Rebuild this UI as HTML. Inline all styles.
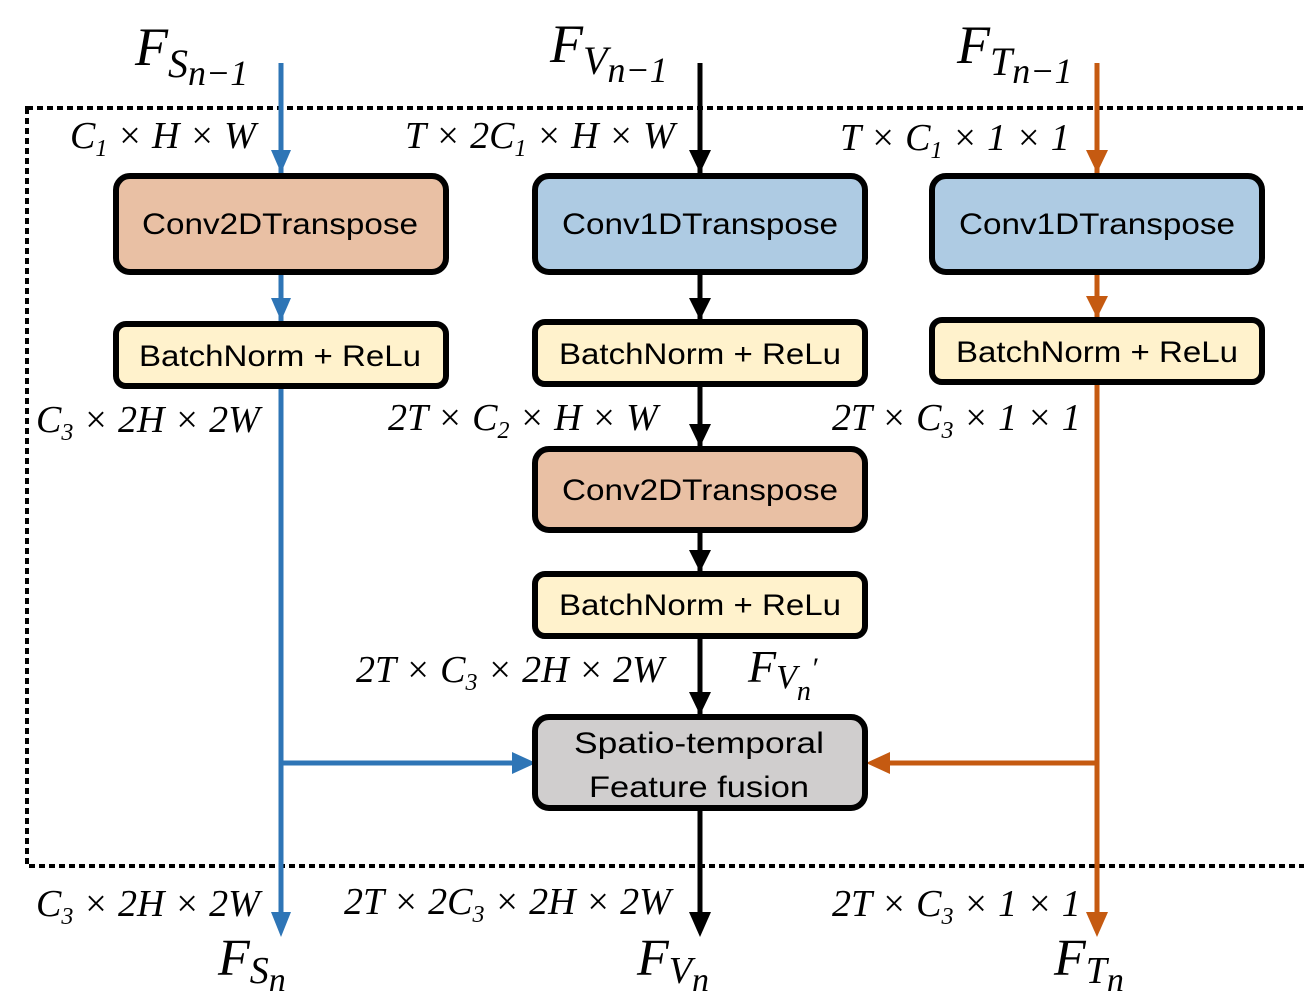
<!DOCTYPE html>
<html><head><meta charset="utf-8"><style>html,body{margin:0;padding:0;background:#fff}svg{display:block}</style></head><body>
<svg width="1304" height="1006" viewBox="0 0 1304 1006" xmlns="http://www.w3.org/2000/svg">
<rect x="27" y="108" width="1290" height="758" fill="none" stroke="#000" stroke-width="4" stroke-dasharray="6,4"/>
<g stroke-width="5" fill="none">
<line x1="281" y1="63" x2="281" y2="915" stroke="#2E75B6"/>
<line x1="281" y1="763" x2="515" y2="763" stroke="#2E75B6"/>
<line x1="700" y1="63" x2="700" y2="915" stroke="#000"/>
<line x1="1097" y1="63" x2="1097" y2="915" stroke="#C55A11"/>
<line x1="1097" y1="763" x2="888" y2="763" stroke="#C55A11"/>
</g>
<g fill="#2E75B6">
<path d="M271,150 L291,150 L281,173z"/><path d="M271,298 L291,298 L281,321z"/><path d="M271,912 L291,912 L281,937z"/><path d="M512,752 L512,774 L536,763z"/>
</g>
<g fill="#000">
<path d="M689,150 L711,150 L700,173z"/><path d="M689,298 L711,298 L700,320z"/><path d="M689,424 L711,424 L700,447z"/><path d="M689,550 L711,550 L700,572z"/><path d="M689,692 L711,692 L700,715z"/><path d="M689,912 L711,912 L700,937z"/>
</g>
<g fill="#C55A11">
<path d="M1086,150 L1108,150 L1097,173z"/><path d="M1086,296 L1108,296 L1097,318z"/><path d="M1086,912 L1108,912 L1097,937z"/><path d="M890,752 L890,774 L866,763z"/>
</g>
<g stroke="#000" stroke-width="6">
<rect x="116" y="176" width="330" height="96" rx="14" fill="#E9C0A4"/>
<rect x="116" y="324" width="330" height="62" rx="10" fill="#FFF2CC"/>
<rect x="535" y="176" width="330" height="96" rx="14" fill="#AECBE3"/>
<rect x="535" y="322" width="330" height="62" rx="10" fill="#FFF2CC"/>
<rect x="535" y="449" width="330" height="81" rx="14" fill="#E9C0A4"/>
<rect x="535" y="574" width="330" height="62" rx="10" fill="#FFF2CC"/>
<rect x="535" y="717" width="330" height="91" rx="14" fill="#D0CECE"/>
<rect x="932" y="176" width="330" height="96" rx="14" fill="#AECBE3"/>
<rect x="932" y="320" width="330" height="62" rx="10" fill="#FFF2CC"/>
</g>
<g font-family="Liberation Sans, sans-serif" font-size="30" fill="#000" text-anchor="middle">
<text x="280" y="234" textLength="276" lengthAdjust="spacingAndGlyphs">Conv2DTranspose</text>
<text x="280" y="366" textLength="282" lengthAdjust="spacingAndGlyphs">BatchNorm + ReLu</text>
<text x="700" y="234" textLength="276" lengthAdjust="spacingAndGlyphs">Conv1DTranspose</text>
<text x="700" y="364" textLength="282" lengthAdjust="spacingAndGlyphs">BatchNorm + ReLu</text>
<text x="700" y="500" textLength="276" lengthAdjust="spacingAndGlyphs">Conv2DTranspose</text>
<text x="700" y="615" textLength="282" lengthAdjust="spacingAndGlyphs">BatchNorm + ReLu</text>
<text x="699" y="753" textLength="250" lengthAdjust="spacingAndGlyphs">Spatio-temporal</text>
<text x="699" y="797" textLength="220" lengthAdjust="spacingAndGlyphs">Feature fusion</text>
<text x="1097" y="234" textLength="276" lengthAdjust="spacingAndGlyphs">Conv1DTranspose</text>
<text x="1097" y="362" textLength="282" lengthAdjust="spacingAndGlyphs">BatchNorm + ReLu</text>
</g>
<g font-family="Liberation Serif, serif" font-style="italic" font-size="38" fill="#000">
<text x="70" y="148">C<tspan font-size="24" dy="8">1</tspan><tspan dy="-8"> × H × W</tspan></text>
<text x="405" y="148">T × 2C<tspan font-size="24" dy="8">1</tspan><tspan dy="-8"> × H × W</tspan></text>
<text x="840" y="150">T × C<tspan font-size="24" dy="8">1</tspan><tspan dy="-8"> × 1 × 1</tspan></text>
<text x="36" y="432">C<tspan font-size="24" dy="8">3</tspan><tspan dy="-8"> × 2H × 2W</tspan></text>
<text x="388" y="430">2T × C<tspan font-size="24" dy="8">2</tspan><tspan dy="-8"> × H × W</tspan></text>
<text x="832" y="430">2T × C<tspan font-size="24" dy="8">3</tspan><tspan dy="-8"> × 1 × 1</tspan></text>
<text x="356" y="682">2T × C<tspan font-size="24" dy="8">3</tspan><tspan dy="-8"> × 2H × 2W</tspan></text>
<text x="36" y="916">C<tspan font-size="24" dy="8">3</tspan><tspan dy="-8"> × 2H × 2W</tspan></text>
<text x="344" y="914">2T × 2C<tspan font-size="24" dy="8">3</tspan><tspan dy="-8"> × 2H × 2W</tspan></text>
<text x="832" y="916">2T × C<tspan font-size="24" dy="8">3</tspan><tspan dy="-8"> × 1 × 1</tspan></text>
</g>
<g font-family="Liberation Serif, serif" font-style="italic" fill="#000">
<text x="135" y="65" font-size="54">F<tspan font-size="40" dy="12">S</tspan><tspan font-size="36" dy="8">n−1</tspan></text>
<text x="550" y="62" font-size="54">F<tspan font-size="40" dy="12">V</tspan><tspan font-size="36" dy="8">n−1</tspan></text>
<text x="957" y="63" font-size="54">F<tspan font-size="40" dy="12">T</tspan><tspan font-size="36" dy="8">n−1</tspan></text>
<text x="748" y="682" font-size="46">F<tspan font-size="34" dy="6">V</tspan><tspan font-size="28" dy="12">n</tspan><tspan font-size="30" dy="-22">′</tspan></text>
<text x="218" y="975" font-size="52">F<tspan font-size="38" dy="8">S</tspan><tspan font-size="34" dy="8">n</tspan></text>
<text x="637" y="975" font-size="52">F<tspan font-size="38" dy="8">V</tspan><tspan font-size="34" dy="8">n</tspan></text>
<text x="1054" y="975" font-size="52">F<tspan font-size="38" dy="8">T</tspan><tspan font-size="34" dy="8">n</tspan></text>
</g>
</svg>
</body></html>
